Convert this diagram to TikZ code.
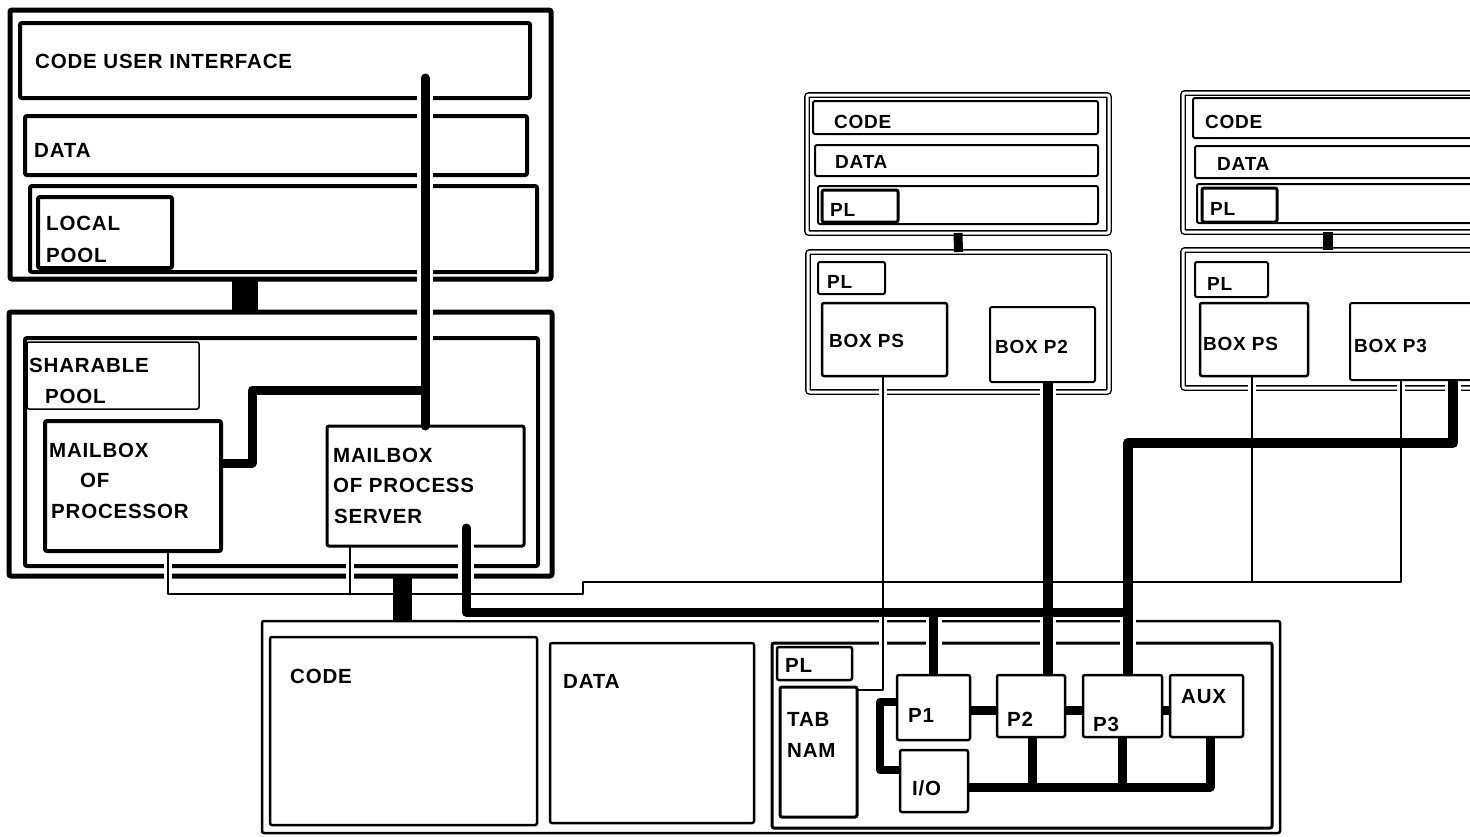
\documentclass[tikz,border=0pt]{standalone}
\usepackage{fontspec}
\setmainfont{Liberation Sans}[LetterSpace=4]
\begin{document}
\begin{tikzpicture}[x=1pt,y=-1pt,
  bx/.style={draw, rounded corners=2pt, inner sep=0pt, outer sep=0pt, anchor=north west, line width=#1},
  bx/.default=2.5pt,
  dbl/.style={draw, rounded corners=2pt, inner sep=0pt, outer sep=0pt, anchor=north west, line width=1.4pt, double, double distance=3pt},
  lbl/.style={font=\fontsize{20.5}{25}\selectfont\bfseries, inner sep=0pt, anchor=base west},
  slbl/.style={font=\fontsize{19}{23}\selectfont\bfseries, inner sep=0pt, anchor=base west},
  halo/.style={draw=white, line width=#1, shorten <=3pt, shorten >=3pt},
  wire/.style={draw=black, line width=#1, line join=round},
  fat/.style={draw=black, line width=#1}
]
\useasboundingbox (0,0) rectangle (1470,836);
\clip (0,0) rectangle (1470,836);

% ---------- top-left block ----------
\node[bx=5pt, minimum width=541pt, minimum height=269pt] (tlout) at (10,10) {};
\node[bx=4pt, minimum width=510pt, minimum height=75pt] (cui) at (20,23) {};
\node[bx=4pt, minimum width=502pt, minimum height=59pt] (tldata) at (25,116) {};
\node[bx=4pt, minimum width=507pt, minimum height=86pt] (tlpool) at (30,186) {};
\node[bx=4pt, minimum width=134pt, minimum height=71pt] (localpool) at (38,197) {};
\node[lbl] (tcui) at (35,68) {CODE USER INTERFACE};
\node[lbl] (ttldata) at (34,157) {DATA};
\node[lbl] (tlocal) at (46,230) {LOCAL};
\node[lbl] (tlpoolt) at (46,262) {POOL};

% ---------- sharable block ----------
\node[bx=5pt, minimum width=543pt, minimum height=264pt] (shout) at (9,312) {};
\node[bx=4pt, minimum width=513pt, minimum height=228pt] (shin) at (25,338) {};
\node[bx=1.5pt, minimum width=172pt, minimum height=67pt] (shpool) at (27,342) {};
\node[bx=4pt, minimum width=176pt, minimum height=130pt] (mbproc) at (45,421) {};
\node[bx=3pt, minimum width=197pt, minimum height=120pt] (mbps) at (327,426) {};
\node[lbl] (tshar) at (29,372) {SHARABLE};
\node[lbl] (tshpool) at (45,403) {POOL};
\node[lbl] (tmb1) at (49,457) {MAILBOX};
\node[lbl] (tof1) at (80,487) {OF};
\node[lbl] (tproc) at (51,518) {PROCESSOR};
\node[lbl] (tmb2) at (333,462) {MAILBOX};
\node[lbl] (tof2) at (333,492) {OF PROCESS};
\node[lbl] (tserv) at (334,523) {SERVER};

% ---------- bottom block ----------
\node[bx=2.5pt, minimum width=1018pt, minimum height=212pt] (botout) at (262,621) {};
\node[bx=2.5pt, minimum width=267pt, minimum height=188pt] (botcode) at (270,637) {};
\node[bx=2.5pt, minimum width=204pt, minimum height=180pt] (botdata) at (550,643) {};
\node[bx=3pt, minimum width=500pt, minimum height=185pt] (botpl) at (772,643) {};
\node[bx=2.5pt, minimum width=75pt, minimum height=33pt] (plbox) at (777,647) {};
\node[bx=3pt, minimum width=77pt, minimum height=130pt] (tabnam) at (780,687) {};
\node[bx=2.5pt, minimum width=73pt, minimum height=65pt] (p1) at (897,675) {};
\node[bx=2.5pt, minimum width=68pt, minimum height=62pt] (p2) at (997,675) {};
\node[bx=2.5pt, minimum width=79pt, minimum height=62pt] (p3) at (1083,675) {};
\node[bx=2.5pt, minimum width=73pt, minimum height=62pt] (aux) at (1170,675) {};
\node[bx=2.5pt, minimum width=68pt, minimum height=62pt] (io) at (900,750) {};
\node[lbl] (tbcode) at (290,683) {CODE};
\node[lbl] (tbdata) at (563,688) {DATA};
\node[lbl] (tbpl) at (785,672) {PL};
\node[lbl] (ttab) at (787,726) {TAB};
\node[lbl] (tnam) at (787,757) {NAM};
\node[lbl] (tp1) at (908,722) {P1};
\node[lbl] (tp2) at (1007,726) {P2};
\node[lbl] (tp3) at (1093,731) {P3};
\node[lbl] (taux) at (1181,703) {AUX};
\node[lbl] (tio) at (912,795) {I/O};

% ---------- middle processor ----------
\node[dbl, minimum width=302pt, minimum height=138pt] (m2up) at (807,95) {};
\node[bx=2pt, minimum width=285pt, minimum height=33pt] (m2code) at (813,101) {};
\node[bx=2pt, minimum width=283pt, minimum height=31pt] (m2data) at (815,145) {};
\node[bx=2pt, minimum width=280pt, minimum height=38pt] (m2pool) at (818,186) {};
\node[bx=3pt, minimum width=76pt, minimum height=32pt] (m2pl) at (822,190) {};
\node[dbl, minimum width=301pt, minimum height=140pt] (m2low) at (808,252) {};
\node[bx=2pt, minimum width=67pt, minimum height=32pt] (m2plb) at (818,262) {};
\node[bx=2.5pt, minimum width=125pt, minimum height=73pt] (boxps2) at (822,303) {};
\node[bx=2pt, minimum width=105pt, minimum height=75pt] (boxp2) at (990,307) {};
\node[slbl] (tm2code) at (834,128) {CODE};
\node[slbl] (tm2data) at (835,168) {DATA};
\node[slbl] (tm2pl) at (830,216) {PL};
\node[slbl] (tm2plb) at (827,288) {PL};
\node[slbl] (tbps2) at (829,347) {BOX PS};
\node[slbl] (tbp2) at (995,353) {BOX P2};

% ---------- right processor ----------
\node[dbl, minimum width=320pt, minimum height=139pt] (m3up) at (1183,93) {};
\node[bx=2pt, minimum width=310pt, minimum height=40pt] (m3code) at (1193,98) {};
\node[bx=2pt, minimum width=310pt, minimum height=32pt] (m3data) at (1195,146) {};
\node[bx=2pt, minimum width=310pt, minimum height=39pt] (m3pool) at (1197,184) {};
\node[bx=3pt, minimum width=75pt, minimum height=34pt] (m3pl) at (1202,188) {};
\node[dbl, minimum width=320pt, minimum height=138pt] (m3low) at (1183,250) {};
\node[bx=2pt, minimum width=73pt, minimum height=35pt] (m3plb) at (1195,262) {};
\node[bx=2.5pt, minimum width=108pt, minimum height=73pt] (boxps3) at (1200,303) {};
\node[bx=2pt, minimum width=150pt, minimum height=77pt] (boxp3) at (1350,303) {};
\node[slbl] (tm3code) at (1205,128) {CODE};
\node[slbl] (tm3data) at (1217,170) {DATA};
\node[slbl] (tm3pl) at (1210,215) {PL};
\node[slbl] (tm3plb) at (1207,290) {PL};
\node[slbl] (tbps3) at (1203,350) {BOX PS};
\node[slbl] (tbp3) at (1354,352) {BOX P3};

% ---------- connector bend points ----------
\coordinate (cuitap) at (425,78);
\coordinate (t2a) at (252,463);
\coordinate (t2b) at (252,390);
\coordinate (t3a) at (466,528);
\coordinate (t3b) at (466,612);
\coordinate (t5) at (1048,500);
\coordinate (t6a) at (1453,443);
\coordinate (t6c) at (1128,443);
\coordinate (s1a) at (168,594);
\coordinate (s1b) at (583,594);
\coordinate (s1c) at (583,582);
\coordinate (s1d) at (1401,582);
\coordinate (s2) at (350,594);
\coordinate (s3) at (883,690);
\coordinate (s4) at (1252,582);
\coordinate (f1) at (245,295);
\coordinate (f2) at (402,600);
\coordinate (f3) at (1328,240);
\coordinate (l1) at (980,710);
\coordinate (l4a) at (880,702);
\coordinate (l4b) at (880,770);
\coordinate (l5) at (1210,787);
\coordinate (l6) at (1032,787);
\coordinate (l7) at (1122,787);

\newcommand\pSa{(mbproc.south -| s1a) -- (s1a) -- (s1b) -- (s1c) -- (s1d) -- (s1d |- boxp3.south)}
\newcommand\pSb{(mbps.south -| s2) -- (s2)}
\newcommand\pSc{(boxps2.south -| s3) -- (s3) -- (s3 -| tabnam.east)}
\newcommand\pSd{(boxps3.south -| s4) -- (s4)}
\newcommand\pTa{(cuitap) -- (cuitap |- mbps.north)}
\newcommand\pTb{(mbproc.east |- t2a) -- (t2a) -- (t2b) -- (t2b -| cuitap)}
\newcommand\pTc{(t3a) -- (t3b) -- (t3b -| t6c)}
\newcommand\pTd{(p1.north |- t3b) -- (p1.north)}
\newcommand\pTe{(boxp2.south -| t5) -- (t5 |- p2.north)}
\newcommand\pTf{(boxp3.south -| t6a) -- (t6a) -- (t6c) -- (t6c |- p3.north)}
\newcommand\pLd{(p1.west |- l4a) -- (l4a) -- (l4b) -- (io.west |- l4b)}
\newcommand\pLe{(io.east |- l5) -- (l5) -- (l5 |- aux.south)}
\newcommand\pLf{(l6) -- (l6 |- p2.south)}
\newcommand\pLg{(l7) -- (l7 |- p3.south)}

% halos (white gaps where wires cross frames)
\path[halo=8pt] \pSa;
\path[halo=8pt] \pSb;
\path[halo=8pt] \pSc;
\path[halo=8pt] \pSd;
\path[halo=16pt] \pTa;
\path[halo=16pt] \pTb;
\path[halo=16pt] \pTc;
\path[halo=16pt] \pTd;
\path[halo=16pt] \pTe;
\path[halo=16pt] \pTf;

% thin wires
\draw[wire=1.8pt] \pSa;
\draw[wire=1.8pt] \pSb;
\draw[wire=1.8pt] \pSc;
\draw[wire=1.8pt] \pSd;
% thick wires
\draw[wire=9pt, line cap=round] \pTa;
\draw[wire=9pt] \pTb;
\draw[wire=9pt, line cap=round] \pTc;
\draw[wire=9pt] \pTd;
\draw[wire=10pt] \pTe;
\draw[wire=10pt] \pTf;
\draw[wire=9pt] (p1.east |- l1) -- (p2.west |- l1);
\draw[wire=9pt] (p2.east |- l1) -- (p3.west |- l1);
\draw[wire=9pt] (p3.east |- l1) -- (aux.west |- l1);
\draw[wire=8pt] \pLd;
\draw[wire=9pt] \pLe;
\draw[wire=9pt] \pLf;
\draw[wire=9pt] \pLg;
% fat links between memory blocks
\draw[fat=26pt] (f1 |- tlout.south) -- (f1 |- shout.north);
\draw[fat=19pt] (f2 |- shout.south) -- (f2 |- botout.north);
\draw[fat=9pt] (m2up.south) -- (m2low.north);
\draw[fat=10pt] (f3 |- m3up.south) -- (f3 |- m3low.north);
\end{tikzpicture}
\end{document}
